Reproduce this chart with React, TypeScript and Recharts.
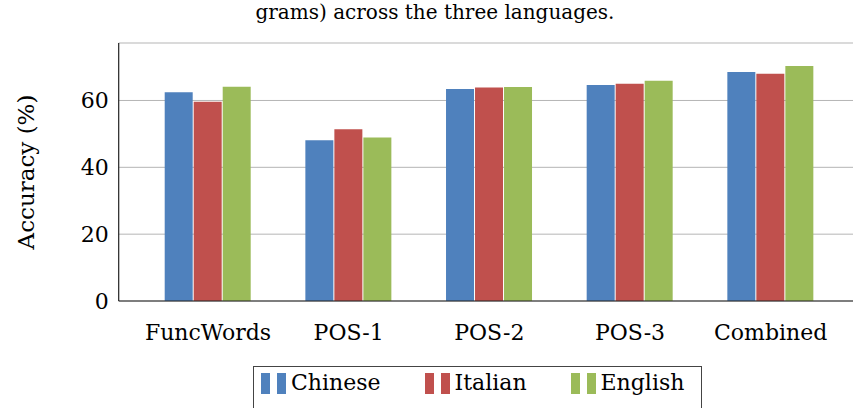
import React from 'react';
import {
  BarChart,
  Bar,
  XAxis,
  YAxis,
  CartesianGrid,
} from 'recharts';

const categories = ['FuncWords', 'POS-1', 'POS-2', 'POS-3', 'Combined'];
const chinese = [62.5, 48.1, 63.4, 64.6, 68.5];
const italian = [59.6, 51.4, 63.9, 65.0, 68.0];
const english = [64.1, 48.9, 64.0, 65.9, 70.3];
const yTicks = [0, 20, 40, 60];
const yMax = 77.2;

const series = [
  { key: 'chinese', name: 'Chinese', fill: '#4F81BD' },
  { key: 'italian', name: 'Italian', fill: '#C0504D' },
  { key: 'english', name: 'English', fill: '#9BBB59' },
];

const data = categories.map((name, i) => ({
  name,
  chinese: chinese[i],
  italian: italian[i],
  english: english[i],
}));

const FONT = '"DejaVu Serif", serif';

const YLabel = () => (
  <text
    x={25.5}
    y={172}
    transform="rotate(-90, 25.5, 172)"
    textAnchor="middle"
    dominantBaseline="central"
    fontFamily={FONT}
    fontSize={23}
    fill="#000"
  >
    Accuracy (%)
  </text>
);

const LegendBox = () => (
  <div
    style={{
      position: 'absolute',
      left: 253,
      top: 366,
      width: 449,
      height: 60,
      border: '1px solid #444',
      boxSizing: 'border-box',
      display: 'flex',
      alignItems: 'flex-start',
      paddingLeft: 7,
      paddingTop: 5,
      gap: 44,
      fontFamily: FONT,
      fontSize: 22,
    }}
  >
    {series.map((s) => (
      <div key={s.key} style={{ display: 'flex', alignItems: 'center', height: 22 }}>
        <span style={{ width: 9, height: 21, background: s.fill, display: 'inline-block' }} />
        <span style={{ width: 9, height: 21, background: s.fill, display: 'inline-block', marginLeft: 7 }} />
        <span style={{ marginLeft: 5, lineHeight: '22px' }}>{s.name}</span>
      </div>
    ))}
  </div>
);

export default function App() {
  return (
    <div
      style={{
        position: 'absolute',
        left: 0,
        top: 0,
        width: 853,
        height: 408,
        overflow: 'hidden',
        background: '#fff',
      }}
    >
      <div
        style={{
          position: 'absolute',
          left: 0,
          width: 870,
          top: 0,
          textAlign: 'center',
          fontFamily: FONT,
          fontSize: 20,
          lineHeight: '24px',
        }}
      >
        grams) across the three languages.
      </div>
      <BarChart
        width={880}
        height={408}
        data={data}
        margin={{ top: 43, right: 20, left: 0, bottom: 67 }}
        barGap={1}
        barSize={28}
        style={{ position: 'absolute', left: 0, top: 0 }}
      >
        <CartesianGrid vertical={false} stroke="#b5b5b5" strokeWidth={1} />
        <XAxis
          dataKey="name"
          padding={{ left: 19, right: 19 }}
          height={40}
          tickLine={false}
          tickSize={0}
          tickMargin={23}
          axisLine={{ stroke: '#222', strokeWidth: 1.2 }}
          tick={{ fill: '#000', fontFamily: FONT, fontSize: 22 }}
          interval={0}
        />
        <XAxis
          xAxisId="top"
          orientation="top"
          dataKey="name"
          height={0}
          tick={false}
          tickLine={false}
          axisLine={{ stroke: '#555', strokeWidth: 1.2 }}
        />
        <YAxis
          width={118.7}
          domain={[0, yMax]}
          ticks={yTicks}
          allowDataOverflow
          tickLine={false}
          tickSize={0}
          tickMargin={10}
          axisLine={{ stroke: '#222', strokeWidth: 1.2 }}
          tick={{ fill: '#000', fontFamily: FONT, fontSize: 22 }}
          label={<YLabel />}
        />
        {series.map((s) => (
          <Bar
            key={s.key}
            dataKey={s.key}
            name={s.name}
            fill={s.fill}
            isAnimationActive={false}
          />
        ))}
      </BarChart>
      <LegendBox />
    </div>
  );
}
